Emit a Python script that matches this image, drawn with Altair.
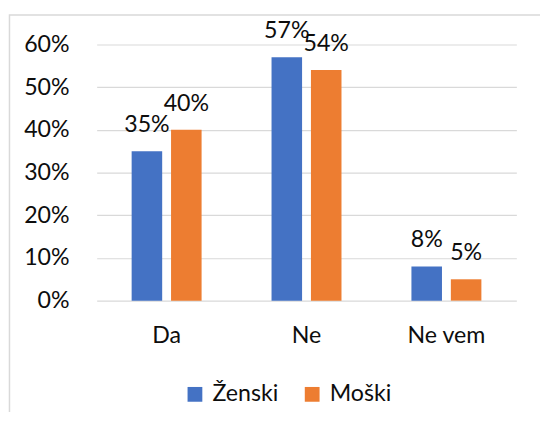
import altair as alt
import pandas as pd

categories = ["Da", "Ne", "Ne vem"]
series = ["Ženski", "Moški"]
zenski = [0.35, 0.57, 0.08]
moski = [0.40, 0.54, 0.05]
colors = ["#4472C4", "#ED7D31"]
y_ticks = [0, 0.1, 0.2, 0.3, 0.4, 0.5, 0.6]

rows = []
for i, c in enumerate(categories):
    rows.append({"kat": c, "spol": series[0], "v": zenski[i]})
    rows.append({"kat": c, "spol": series[1], "v": moski[i]})
df = pd.DataFrame(rows)

FONT = "Lato"
TXT = "#0d0d0d"
FS = 23.5

x_enc = alt.X("kat:N", sort=categories, title=None,
              scale=alt.Scale(paddingInner=0, paddingOuter=0),
              axis=alt.Axis(labelAngle=0, domain=False, ticks=False, labelPadding=23,
                            labelFontSize=FS, labelFont=FONT, labelColor=TXT, grid=False))
xo_enc = alt.XOffset("spol:N", sort=series,
                     scale=alt.Scale(paddingInner=0.225, paddingOuter=0.8875))
y_enc = alt.Y("v:Q", title=None,
              scale=alt.Scale(domain=[0, 0.6], nice=False),
              axis=alt.Axis(values=y_ticks, format=".0%", domain=False, ticks=False,
                            labelPadding=28, labelFontSize=FS, labelFont=FONT,
                            labelColor=TXT, gridColor="#d9d9d9", gridWidth=1.2))
color_enc = alt.Color("spol:N", sort=series, title=None,
                      scale=alt.Scale(domain=series, range=colors),
                      legend=alt.Legend(orient="none", legendX=88, legendY=343,
                                        direction="horizontal", symbolType="square",
                                        symbolSize=225, symbolStrokeWidth=0,
                                        symbolOpacity=1,
                                        labelFontSize=FS, labelFont=FONT, labelColor=TXT,
                                        labelOffset=6, columnPadding=22, padding=0))

frame = alt.Chart(pd.DataFrame({"a": [0]})).mark_rect(
    fill=None, stroke="#d9d9d9", strokeWidth=1.5
).encode(x=alt.value(-88.5), x2=alt.value(520), y=alt.value(-30), y2=alt.value(420))

bars = alt.Chart(df).mark_bar().encode(x=x_enc, xOffset=xo_enc, y=y_enc, color=color_enc)

labels = alt.Chart(df).mark_text(
    baseline="alphabetic", dy=-19.5, fontSize=FS, font=FONT, color=TXT
).encode(x=alt.X("kat:N", sort=categories), xOffset=alt.XOffset("spol:N", sort=series),
         y="v:Q", text=alt.Text("v:Q", format=".0%"))

chart = alt.layer(frame, bars, labels).properties(
    width=426, height=260,
    autosize=alt.AutoSizeParams(type="none"),
    padding={"left": 90, "top": 34, "right": 24, "bottom": 110},
    background="white",
).configure_view(stroke=None)

chart.save("out.html", embed_options={"renderer": "svg", "actions": False})
